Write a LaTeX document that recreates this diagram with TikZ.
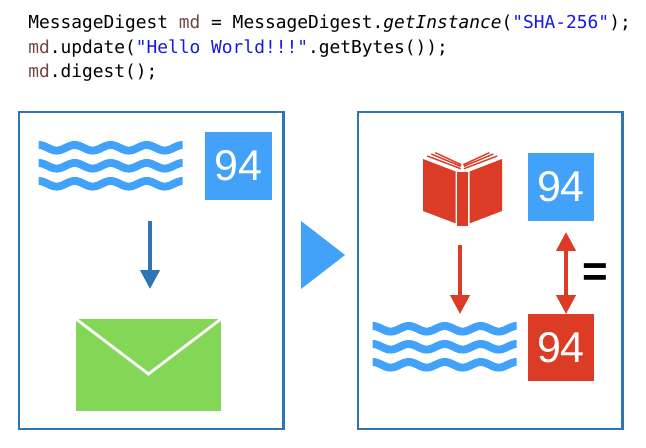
\documentclass[tikz,border=0pt]{standalone}
\usepackage{fontspec}
\setmainfont{Liberation Sans}
\setmonofont{DejaVu Sans Mono}
\usepackage{xcolor}
\usetikzlibrary{arrows.meta}
\definecolor{boxblue}{HTML}{2F75B5}
\definecolor{skyblue}{HTML}{42A1F9}
\definecolor{bookred}{HTML}{DC3B26}
\definecolor{mailgreen}{HTML}{83D656}
\definecolor{varbrown}{HTML}{6E4A42}
\definecolor{strblue}{HTML}{1A1AE0}
\tikzset{
    panel/.style={draw=boxblue,line width=1.3pt,minimum width=150.5pt,minimum height=180.3pt,anchor=north west},
    numbox/.style={minimum width=37.8pt,minimum height=38.6pt,inner sep=0pt,text=white,font=\fontsize{24.5}{24.5}\selectfont},
    codeline/.style={anchor=base west,inner sep=0pt,font=\ttfamily\fontsize{10.17}{12}\selectfont},
    wavyline/.style={draw=skyblue,line width=4.5pt},
    pageline/.style={draw=bookred,line width=0.8pt},
    flow/.style={line width=2.3pt,-{Triangle[length=10.8pt,width=10.8pt]}},
    wavy/.pic={
        \clip (0,-12) rectangle (144,50);
        \foreach \k in {0,18,36}
            \draw[wavyline] plot[domain=-4:148,samples=77,smooth] ({\x},{\k-2.8*cos(10*\x)});
    }
}
\begin{document}
\begin{tikzpicture}[x=0.02cm,y=-0.02cm]
    \useasboundingbox (0,0) rectangle (646,448);

    % code
    \node[codeline] (line1) at (28,29) {MessageDigest \textcolor{varbrown}{md} = MessageDigest.\textit{getInstance}(\textcolor{strblue}{"SHA-256"});};
    \node[codeline] (line2) at (28,54) {\textcolor{varbrown}{md}.update(\textcolor{strblue}{"Hello World!!!"}.getBytes());};
    \node[codeline] (line3) at (28,78) {\textcolor{varbrown}{md}.digest();};

    % panels
    \node[panel] (left) at (18,111) {};
    \node[panel] (right) at (357,111) {};
    \fill[skyblue] (301,221) -- (345,255) -- (301,289) -- cycle;

    % left panel
    \pic at (38.7,147.8) {wavy};
    \node[numbox,fill=skyblue] (numA) at (238.5,166) {94};
    \fill[mailgreen] (76,319) rectangle (221,411);
    \draw[white,line width=1.6pt] (76,319) -- (148.5,374) -- (221,319);
    \coordinate (A) at (150,221);
    \coordinate (B) at (150,289);
    \draw[flow,boxblue] (A) -- (B);

    % right panel
    \fill[bookred] (423,159) -- (455.5,171.5) -- (455.5,223.3) -- (423,211) -- cycle;
    \fill[bookred] (469.7,171.5) -- (502,159) -- (502,211) -- (469.7,223.3) -- cycle;
    \fill[bookred] (457,172) rectangle (468,226);
    \draw[pageline] (427.3,156) -- (460.7,168.7) (431.3,154) -- (460.7,166.3) (435.3,152.7) -- (461.3,164.7);
    \draw[pageline] (497.3,156) -- (463.9,168.7) (493.3,154) -- (463.9,166.3) (489.3,152.7) -- (463.3,164.7);
    \node[numbox,fill=skyblue] (numB) at (561,187) {94};
    \node[numbox,fill=bookred] (numC) at (561,347.5) {94};
    \pic at (372.7,328.8) {wavy};
    \coordinate (C) at (460,245);
    \coordinate (D) at (460,314);
    \coordinate (E) at (566,232);
    \coordinate (F) at (566,314);
    \draw[flow,bookred] (C) -- (D);
    \draw[flow,bookred,{Triangle[length=10.8pt,width=10.8pt]}-{Triangle[length=10.8pt,width=10.8pt]}] (E) -- (F);
    \node[inner sep=0pt,font=\bfseries\fontsize{25}{25}\selectfont] (eq) at (595,275) {=};
\end{tikzpicture}
\end{document}
